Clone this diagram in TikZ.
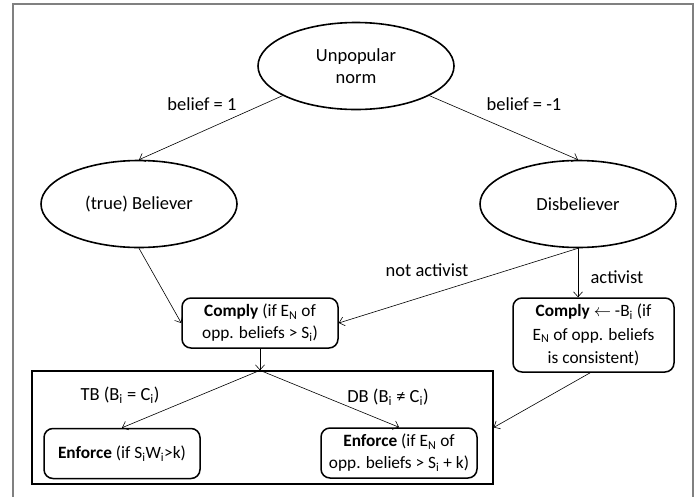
\documentclass[tikz,border=0pt]{standalone}
\usepackage{fontspec}
\setmainfont{Carlito}
\usetikzlibrary{arrows.meta,shapes.geometric}
\definecolor{framegray}{RGB}{128,128,128}
\begin{document}
\begin{tikzpicture}[x=1pt,y=-1pt,
  every node/.style={font=\fontsize{18.5}{22.5}\selectfont},
  ell/.style={draw, ellipse, line width=1.6pt, minimum width=196pt, minimum height=87pt, inner sep=0pt, align=center},
  rbox/.style={draw, rounded corners=9pt, line width=1.5pt, minimum width=156pt, minimum height=50pt, inner sep=0pt, align=center, font=\fontsize{17.3}{22}\selectfont},
  bigbox/.style={draw, line width=1.3pt, inner sep=0pt},
  conn/.style={line width=0.6pt, -{Straight Barb[length=5pt,width=9pt]}},
  frame/.style={line width=2.5pt, draw=framegray}]
\useasboundingbox (0,0) rectangle (699,496);
\coordinate (f1) at (13,497);
\coordinate (f2) at (13,4);
\coordinate (f3) at (693,4);
\coordinate (f4) at (693,497);
\draw[frame] (f1) -- (f2) -- (f3) -- (f4);

\node[ell] (un) at (356,66) {Unpopular\\norm};
\node[ell] (bel) at (139,204) {(true) Believer};
\node[ell] (dis) at (578,204) {Disbeliever};
\node[rbox] (cm) at (260,323) {\textbf{Comply} (if E\textsubscript{N} of\\opp. beliefs > S\textsubscript{i})};
\node[rbox, minimum width=161pt, minimum height=74pt, font=\fontsize{17.3}{23.5}\selectfont] (rc) at (593.5,335) {\textbf{Comply} $\leftarrow$ -B\textsubscript{i} (if\\E\textsubscript{N} of opp. beliefs\\is consistent)};
\node[bigbox, minimum width=461pt, minimum height=113pt] (big) at (262.5,427.5) {};
\node[rbox] (el) at (122,453.5) {\textbf{Enforce} (if S\textsubscript{i}W\textsubscript{i}>k)};
\node[rbox] (er) at (399,453) {\textbf{Enforce} (if E\textsubscript{N} of\\opp. beliefs > S\textsubscript{i} + k)};

\node (l1) at (202,104) {belief = 1};
\node (l2) at (524,104) {belief = -1};
\node (l3) at (427,270) {not activist};
\node (l4) at (617,277) {activist};
\node (l5) at (120,395) {TB (B\textsubscript{i} = C\textsubscript{i})};
\node (l6) at (388,397) {DB (B\textsubscript{i} ≠ C\textsubscript{i})};

\draw[conn] (un.202) -- (bel.north);
\draw[conn] (un.-22) -- (dis.north);
\draw[conn] (bel.south) -- (cm.west);
\draw[conn] (dis.south) -- (cm.east);
\draw[conn] (dis.south) -- (dis.south |- rc.north);
\coordinate (j) at (cm.south |- big.north);
\draw[conn] (cm.south) -- (j);
\draw[conn] (j) -- (el.north);
\draw[conn] (j) -- (er.north);
\draw[conn] (rc.265) -- (big.east);
\end{tikzpicture}
\end{document}
